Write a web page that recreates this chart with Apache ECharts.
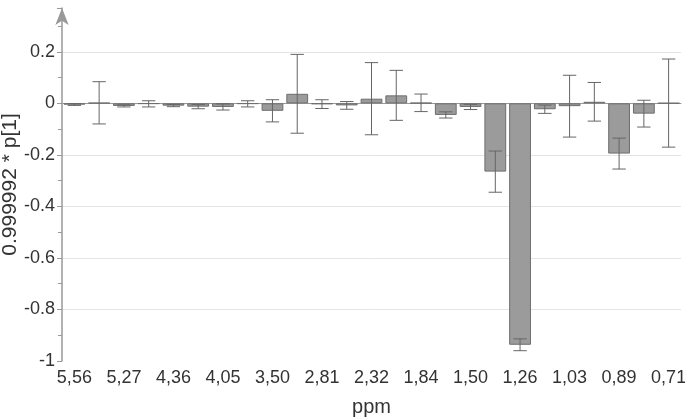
<!DOCTYPE html>
<html>
<head>
<meta charset="utf-8">
<script src="https://cdn.jsdelivr.net/npm/echarts@6/dist/echarts.min.js"></script>
<style>
  html, body { margin: 0; padding: 0; background: #fff; }
  #chart { width: 685px; height: 418px; }
</style>
</head>
<body>
<div id="chart"></div>
<script>
// ppm bins (only every other one is labelled on the axis)
const categories = ['5,56', '5,40', '5,27', '4,60', '4,36', '4,18', '4,05', '3,80', '3,50', '3,20',
  '2,81', '2,55', '2,32', '2,08', '1,84', '1,66', '1,50', '1,38', '1,26', '1,14',
  '1,03', '0,96', '0,89', '0,80', '0,71']
// loading values 0.999992 * p[1]
const loadings = [-0.005, 0.002, -0.010, -0.002, -0.009, -0.013, -0.014, -0.002, -0.029, 0.037,
  -0.003, -0.008, 0.018, 0.031, 0.002, -0.045, -0.014, -0.265, -0.937, -0.023,
  -0.011, 0.006, -0.195, -0.040, 0.001]
// half width of the error bars
const errors = [0.003, 0.082, 0.004, 0.012, 0.004, 0.008, 0.012, 0.012, 0.043, 0.153,
  0.017, 0.015, 0.140, 0.097, 0.034, 0.012, 0.010, 0.080, 0.023, 0.016,
  0.120, 0.075, 0.060, 0.052, 0.171]

const font = 'Liberation Sans, Arial, sans-serif'
const errData = loadings.map((v, i) => [i, v - errors[i], v + errors[i]])

const chart = echarts.init(document.getElementById('chart'))
chart.setOption({
  animation: false,
  grid: { left: 62, right: 4, top: 8, bottom: 57, containLabel: false, outerBoundsMode: 'none' },
  xAxis: {
    type: 'category',
    data: categories,
    name: 'ppm',
    nameLocation: 'middle',
    nameGap: 36,
    nameMoveOverlap: false,
    nameTextStyle: { fontFamily: font, fontSize: 20, color: '#333' },
    axisLine: { lineStyle: { color: '#999' } },
    axisTick: { interval: 1, alignWithLabel: true, length: 5, lineStyle: { color: '#999' } },
    axisLabel: { interval: 1, fontFamily: font, fontSize: 18, color: '#333', margin: 8 }
  },
  yAxis: {
    type: 'value',
    min: -1,
    max: 0.37,
    interval: 0.2,
    name: '0.999992 * p[1]',
    nameLocation: 'middle',
    nameGap: 41,
    nameMoveOverlap: false,
    nameTextStyle: { fontFamily: font, fontSize: 21, color: '#333' },
    axisLine: {
      show: true,
      symbol: ['none', 'arrow'],
      symbolSize: [10, 17],
      lineStyle: { color: '#999', width: 1.5 }
    },
    axisTick: { show: true, length: 5, lineStyle: { color: '#999' } },
    minorTick: { show: true, splitNumber: 2, length: 4, lineStyle: { color: '#999' } },
    axisLabel: { fontFamily: font, fontSize: 18, color: '#333', margin: 7, showMaxLabel: false },
    splitLine: {
      show: true,
      lineStyle: {
        // -1 (axis), -0.8 ... -0.2, 0 (darker), 0.2, top
        color: ['rgba(0,0,0,0)', '#e4e4e4', '#e4e4e4', '#e4e4e4', '#e4e4e4', '#999', '#e4e4e4', 'rgba(0,0,0,0)']
      }
    }
  },
  series: [
    {
      type: 'bar',
      data: loadings,
      barCategoryGap: '12%',
      itemStyle: { color: '#9b9b9b', borderColor: '#6e6e6e', borderWidth: 1 }
    },
    {
      type: 'custom',
      data: errData,
      z: 5,
      renderItem(params, api) {
        const i = api.value(0)
        const lo = api.coord([i, api.value(1)])
        const hi = api.coord([i, api.value(2)])
        const half = api.size([1, 0])[0] * 0.27
        const style = { stroke: '#666', lineWidth: 1 }
        return {
          type: 'group',
          children: [
            { type: 'line', shape: { x1: hi[0], y1: hi[1], x2: lo[0], y2: lo[1] }, style },
            { type: 'line', shape: { x1: hi[0] - half, y1: hi[1], x2: hi[0] + half, y2: hi[1] }, style },
            { type: 'line', shape: { x1: lo[0] - half, y1: lo[1], x2: lo[0] + half, y2: lo[1] }, style }
          ]
        }
      }
    }
  ]
})
</script>
</body>
</html>
